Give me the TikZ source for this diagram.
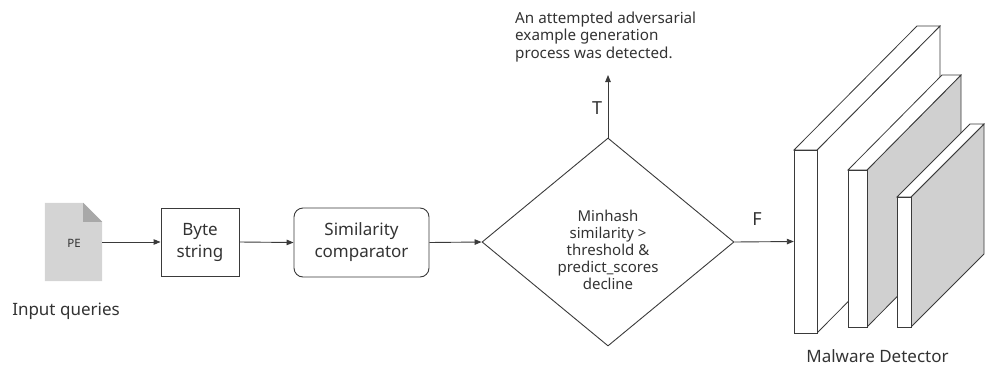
\documentclass[tikz,border=0pt]{standalone}
\usepackage{fontspec}
\setmainfont{Noto Sans}
\usetikzlibrary{shapes.geometric,arrows.meta}
\definecolor{ink}{HTML}{333333}
\definecolor{line}{HTML}{3A3A3A}
\definecolor{docgray}{HTML}{D4D4D4}
\definecolor{foldgray}{HTML}{A8A8A8}
\definecolor{sidegray}{HTML}{D0D0D0}
\tikzset{
  fsmall/.style={font=\fontsize{11.5}{14}\selectfont},
  fnote/.style={font=\fontsize{15.2}{17.3}\selectfont},
  fcond/.style={font=\fontsize{15}{17}\selectfont},
  fbox/.style={font=\fontsize{17}{22}\selectfont},
  flabel/.style={font=\fontsize{17}{20}\selectfont},
  fletter/.style={font=\fontsize{18}{21}\selectfont},
  every node/.style={text=ink},
  flow/.style={draw=line, line width=0.9pt, -{Triangle[length=7pt,width=5.5pt]}},
  box/.style={draw=line, line width=0.9pt, align=center, fbox, inner sep=0pt},
  slab/.style={draw=line, line width=0.8pt, line join=miter},
}
\begin{document}
\begin{tikzpicture}[x=1pt,y=-1pt]
\useasboundingbox (0,0) rectangle (987,367);

% input file icon
\node[minimum width=57pt, minimum height=78pt, inner sep=0pt] (pe) at (73.5,242) {};
\fill[docgray] (pe.south west) -- (pe.north west) -- ([xshift=-19pt]pe.north east)
  -- ([yshift=-19pt]pe.north east) -- (pe.south east) -- cycle;
\fill[foldgray] ([xshift=-19pt]pe.north east) -- ([xshift=-19pt,yshift=-19pt]pe.north east)
  -- ([yshift=-19pt]pe.north east) -- cycle;
\node[fsmall] (petext) at (74,243) {PE};
\node[flabel] (inq) at (66,311) {Input queries};

% processing boxes
\node[box, minimum width=78pt, minimum height=68pt] (byte) at (200,242) {Byte\\string};
\node[box, rounded corners=9pt, minimum width=135pt, minimum height=69pt] (sim) at (361.5,242.5) {Similarity\\comparator};

% decision
\node[draw=line, line width=0.9pt, shape=diamond, minimum width=252pt, minimum height=208pt,
      inner sep=0pt] (dec) at (608,242) {};
\node[align=center, fcond, inner sep=0pt] (cond) at (608,250)
  {Minhash\\similarity >\\threshold \&\\predict\_scores\\decline};

\coordinate (top) at (608,75);
\node[anchor=west, align=left, fnote, inner sep=0pt] (alert) at (515,37)
  {An attempted adversarial\\example generation\\process was detected.};

% malware detector layers
\node[minimum width=23pt, minimum height=183pt, inner sep=0pt] (l1) at (805.5,241.5) {};
\filldraw[slab, fill=white] (817,150) -- (940,26) -- (940,209) -- (817,333) -- cycle;
\filldraw[slab, fill=white] (794,150) -- (917,26) -- (940,26) -- (817,150) -- cycle;
\filldraw[slab, fill=white] (794,150) rectangle (817,333);

\filldraw[slab, fill=sidegray] (867,170) -- (961,75) -- (961,232) -- (867,327) -- cycle;
\filldraw[slab, fill=white] (848,170) -- (942,75) -- (961,75) -- (867,170) -- cycle;
\filldraw[slab, fill=white] (848,170) rectangle (867,327);

\filldraw[slab, fill=sidegray] (911,197) -- (984,124) -- (984,254) -- (911,327) -- cycle;
\filldraw[slab, fill=white] (897,197) -- (970,124) -- (984,124) -- (911,197) -- cycle;
\filldraw[slab, fill=white] (897,197) rectangle (911,327);

\node[flabel] (md) at (877.5,356) {Malware Detector};

% connectors
\draw[flow] (pe.east) -- (byte.west);
\draw[flow] (byte.east) -- (sim.west);
\draw[flow] (sim.east) -- (dec.west);
\draw[flow] (dec.north) -- (top);
\draw[flow] (dec.east) -- (l1.west);
\node[fletter] (tl) at (597,108) {T};
\node[fletter] (fl) at (757,219) {F};
\end{tikzpicture}
\end{document}
